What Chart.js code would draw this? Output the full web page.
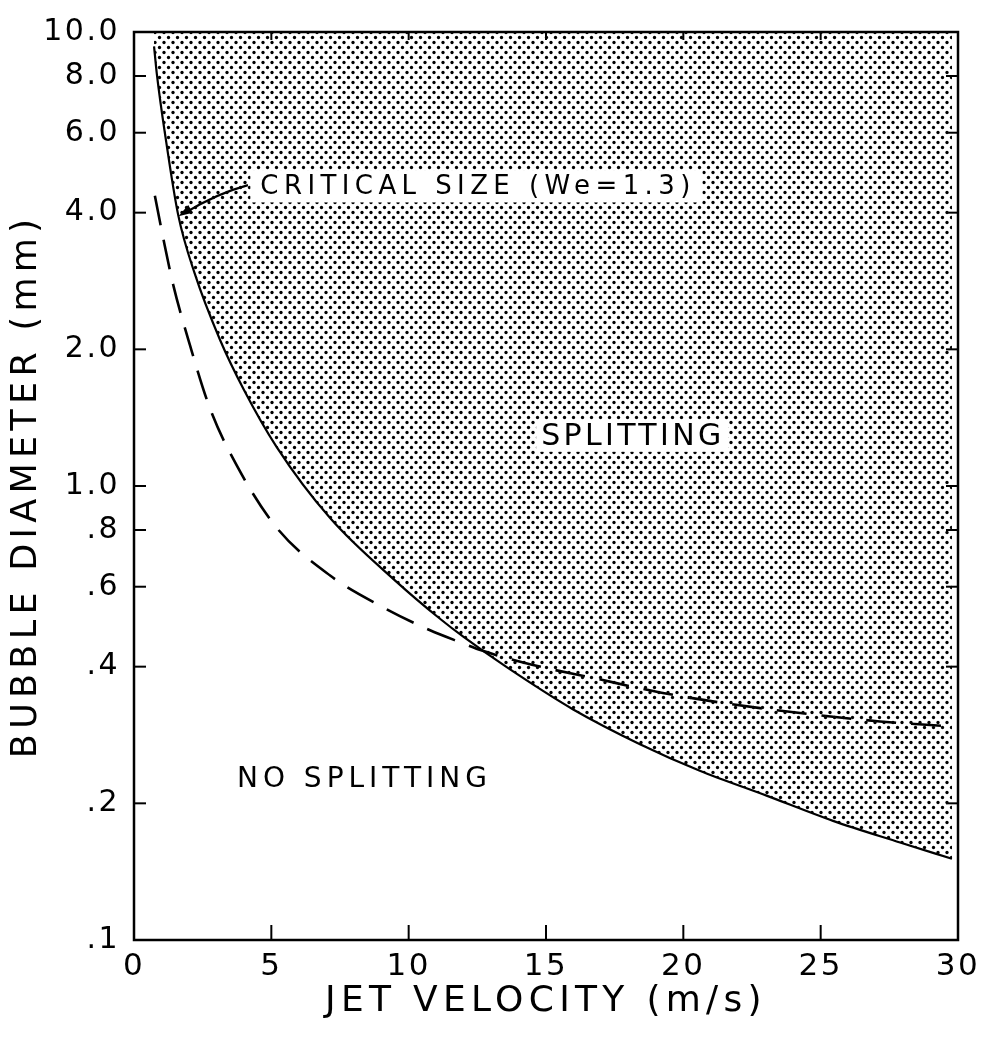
<!DOCTYPE html>
<html><head><meta charset="utf-8">
<script src="https://cdn.jsdelivr.net/npm/chart.js@4.4.1/dist/chart.umd.min.js"></script>
<style>html,body{margin:0;padding:0;background:#fff}</style>
</head><body>
<canvas id="c" width="997" height="1039"></canvas>
<script>
// ---- data ----
const critVelocity = [0.73, 0.83, 1.15, 1.61, 2.2, 3.13, 4.0, 5.19, 7.14, 9.56, 11.14, 12.0, 13.57, 15.99, 18.42, 20.6, 23.03, 25.45, 27.89, 29.78];
const critDiameter = [9.3, 8.1, 5.85, 3.95, 2.95, 2.1, 1.63, 1.22, 0.85, 0.615, 0.51, 0.465, 0.399, 0.322, 0.27, 0.236, 0.208, 0.183, 0.164, 0.151];
const dashVelocity = [0.76, 1.07, 1.43, 2.04, 2.77, 3.74, 5.19, 7.14, 8.96, 10.78, 11.99, 12.67, 14.49, 16.78, 19.15, 21.7, 24.5, 27.16, 29.89];
const dashDiameter = [4.36, 3.50, 2.77, 2.04, 1.48, 1.11, 0.81, 0.635, 0.545, 0.481, 0.450, 0.434, 0.404, 0.377, 0.351, 0.331, 0.315, 0.303, 0.295];
const xTickValues = [0, 5, 10, 15, 20, 25, 30];
const xTickLabels = ['0', '5', '10', '15', '20', '25', '30'];
const yTickValues = [0.1, 0.2, 0.4, 0.6, 0.8, 1, 2, 4, 6, 8, 10];
const yTickLabels = ['.1', '.2', '.4', '.6', '.8', '1.0', '2.0', '4.0', '6.0', '8.0', '10.0'];
const xAxisTitle = 'JET VELOCITY (m/s)';
const yAxisTitle = 'BUBBLE DIAMETER (mm)';
const criticalLabel = 'CRITICAL SIZE (We=1.3)';
const splitLabel = 'SPLITTING';
const noSplitLabel = 'NO SPLITTING';

const FONT = "'DejaVu Sans', 'Liberation Sans', sans-serif";

// stipple pattern
function makePattern(ctx) {
  const t = document.createElement('canvas');
  t.width = 9; t.height = 10;
  const c = t.getContext('2d');
  c.fillStyle = '#000';
  [[2, 2.5], [6.5, 7.5]].forEach(([x, y]) => { c.beginPath(); c.arc(x, y, 1.65, 0, Math.PI * 2); c.fill(); });
  return ctx.createPattern(t, 'repeat');
}

const canvas = document.getElementById('c');
const ctx0 = canvas.getContext('2d');
const stipple = makePattern(ctx0);

function drawSpaced(ctx, text, left, cy, size, width) {
  ctx.font = size + 'px ' + FONT;
  ctx.letterSpacing = '0px';
  const w = ctx.measureText(text).width;
  const sp = (width - w) / (text.length - 1);
  ctx.letterSpacing = sp + 'px';
  ctx.textAlign = 'left';
  ctx.textBaseline = 'middle';
  ctx.fillStyle = '#000';
  ctx.fillText(text, left, cy);
}

const annotate = {
  id: 'annotate',
  beforeDraw(chart) {
    const ctx = chart.ctx;
    Object.values(chart.scales).forEach(s => {
      if (s._spacingWrapped) return;
      s._spacingWrapped = true;
      const dt = s.drawTitle.bind(s), dl = s.drawLabels.bind(s);
      s.drawTitle = function () { ctx.save(); ctx.letterSpacing = '5.3px'; dt(); ctx.restore(); };
      s.drawLabels = function (a) { ctx.save(); ctx.letterSpacing = '2.5px'; dl(a); ctx.restore(); };
    });
  },
  afterDatasetsDraw(chart) {
    const { ctx, scales: { x, y } } = chart;
    ctx.save();
    // CRITICAL SIZE label with white box
    let lx = x.getPixelForValue(4.6), ly = y.getPixelForValue(4.57);
    ctx.fillStyle = '#fff';
    ctx.fillRect(lx - 10, ly - 16, 452, 32);
    drawSpaced(ctx, criticalLabel, lx, ly + 1, 26, 430);
    // SPLITTING
    let sx = x.getPixelForValue(18.1), sy = y.getPixelForValue(1.29);
    ctx.fillStyle = '#fff';
    ctx.fillRect(sx - 95, sy - 16, 192, 32);
    drawSpaced(ctx, splitLabel, sx - 90, sy + 1, 30, 180);
    // NO SPLITTING
    let nx = x.getPixelForValue(8.3), ny = y.getPixelForValue(0.227);
    drawSpaced(ctx, noSplitLabel, nx - 125, ny + 1, 28, 250);
    // arrow
    const ax0 = x.getPixelForValue(4.15), ay0 = y.getPixelForValue(4.6);
    const ax1 = x.getPixelForValue(1.62), ay1 = y.getPixelForValue(3.93);
    const cx = (ax0 + ax1) / 2 + 3, cy = (ay0 + ay1) / 2 - 7;
    ctx.strokeStyle = '#000'; ctx.lineWidth = 2.2;
    ctx.beginPath(); ctx.moveTo(ax0, ay0); ctx.quadraticCurveTo(cx, cy, ax1 + 6, ay1 - 3); ctx.stroke();
    const ang = Math.atan2(ay1 - cy, ax1 - cx);
    ctx.fillStyle = '#000';
    ctx.beginPath();
    ctx.moveTo(ax1, ay1);
    ctx.lineTo(ax1 - 14 * Math.cos(ang) + 4.5 * Math.sin(ang), ay1 - 14 * Math.sin(ang) - 4.5 * Math.cos(ang));
    ctx.lineTo(ax1 - 14 * Math.cos(ang) - 4.5 * Math.sin(ang), ay1 - 14 * Math.sin(ang) + 4.5 * Math.cos(ang));
    ctx.closePath(); ctx.fill();
    ctx.restore();
  },
  afterDraw(chart) {
    const { ctx, chartArea: a, scales: { x, y } } = chart;
    ctx.save();
    ctx.strokeStyle = '#000';
    ctx.lineWidth = 2;
    const seg = (x0, y0, x1, y1) => { ctx.beginPath(); ctx.moveTo(x0, y0); ctx.lineTo(x1, y1); ctx.stroke(); };
    yTickValues.forEach(v => {
      if (v <= 0.1 || v >= 10) return;
      const py = y.getPixelForValue(v);
      seg(a.left, py, a.left + 12, py);
      seg(a.right, py, a.right - 12, py);
    });
    xTickValues.forEach(v => {
      if (v <= 0 || v >= 30) return;
      const px = x.getPixelForValue(v);
      seg(px, a.bottom, px, a.bottom - 15);
      seg(px, a.top, px, a.top + 8);
    });
    ctx.lineWidth = 2.5;
    ctx.strokeRect(a.left, a.top, a.right - a.left, a.bottom - a.top);
    ctx.restore();
  }
};

Chart.defaults.font.family = FONT;
Chart.defaults.color = '#000';

new Chart(canvas, {
  type: 'line',
  data: {
    datasets: [
      {
        label: 'Critical size',
        data: critVelocity.map((v, i) => ({ x: v, y: critDiameter[i] })),
        borderColor: '#000', borderWidth: 2.2, pointRadius: 0,
        fill: 'end', backgroundColor: stipple,
        cubicInterpolationMode: 'monotone'
      },
      {
        label: 'Dashed',
        data: dashVelocity.map((v, i) => ({ x: v, y: dashDiameter[i] })),
        borderColor: '#000', borderWidth: 2.6, pointRadius: 0,
        borderDash: [30, 15], fill: false,
        cubicInterpolationMode: 'monotone'
      }
    ]
  },
  options: {
    responsive: false,
    animation: false,
    devicePixelRatio: 1,
    layout: { padding: { left: 0, top: 29, right: 39, bottom: 0 } },
    plugins: { legend: { display: false }, tooltip: { enabled: false } },
    scales: {
      x: {
        type: 'linear', min: 0, max: 30,
        grid: { display: false, drawTicks: false }, border: { display: false },
        afterBuildTicks: s => { s.ticks = xTickValues.map(v => ({ value: v })); },
        ticks: { autoSkip: false, maxRotation: 0, padding: 8, font: { size: 31 },
          callback: v => xTickLabels[xTickValues.indexOf(v)] },
        title: { display: true, text: xAxisTitle, font: { size: 36 }, padding: { top: 0, bottom: 16 } },
        afterFit: s => { s.height = 99; }
      },
      y: {
        type: 'logarithmic', min: 0.1, max: 10,
        grid: { display: false, drawTicks: false }, border: { display: false },
        afterBuildTicks: s => { s.ticks = yTickValues.map(v => ({ value: v })); },
        ticks: { autoSkip: false, padding: 14, font: { size: 30 },
          callback: v => { const i = yTickValues.findIndex(t => Math.abs(t - v) < 1e-9); return i < 0 ? '' : yTickLabels[i]; } },
        title: { display: true, text: yAxisTitle, font: { size: 35 }, padding: { top: 6, bottom: 0 } },
        afterFit: s => { s.width = 134; }
      }
    }
  },
  plugins: [annotate]
});
</script>
</body></html>
